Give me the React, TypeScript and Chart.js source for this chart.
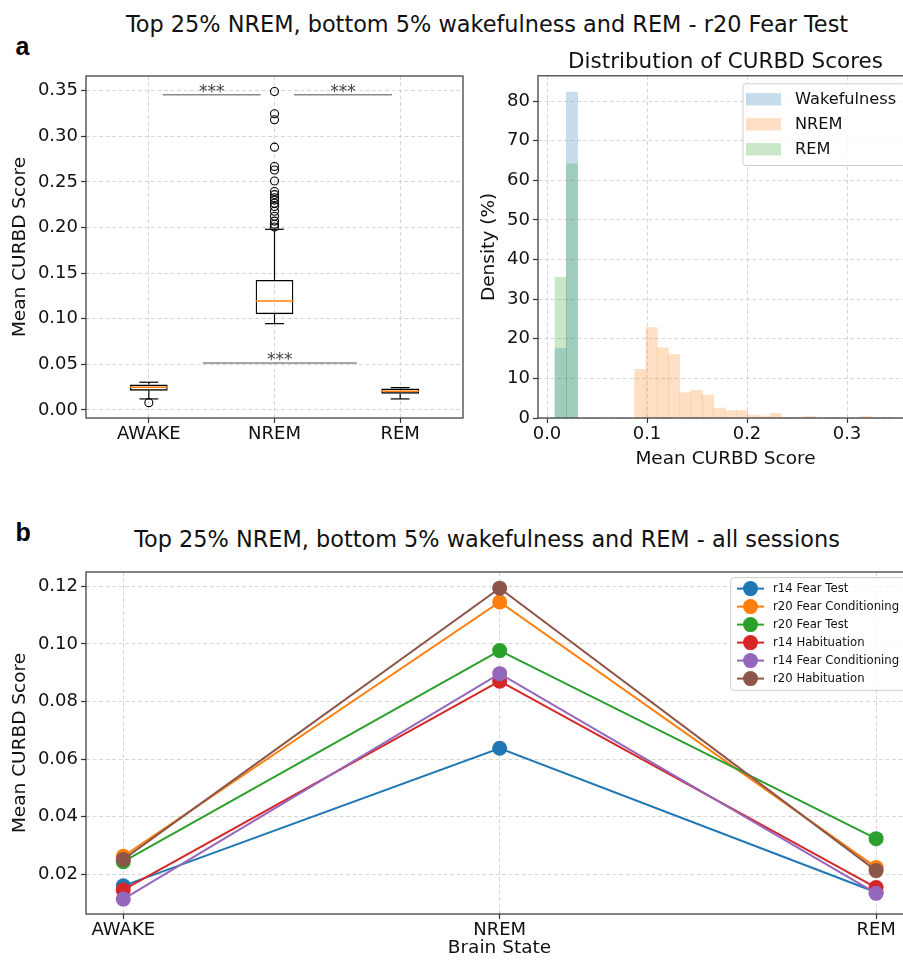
import React, { useEffect, useRef } from 'react';
import { Chart, registerables } from 'chart.js';

Chart.register(...registerables);

const FONT = 'DejaVu Sans';
const TEXT = '#111111';
const GRID = '#d6d6d6';
const SPINE = '#333333';

// ---------------- Panel a (left): box plot ----------------
const STATES = ['AWAKE', 'NREM', 'REM'];
const STATE_POS = [1, 2, 3];
const BOX_Q1 = [0.0212, 0.105, 0.0179];
const BOX_MEDIAN = [0.0248, 0.1195, 0.0205];
const BOX_Q3 = [0.0278, 0.1425, 0.0234];
const WHISKER_LOW = [0.0121, 0.0946, 0.0121];
const WHISKER_HIGH = [0.0304, 0.198, 0.0245];
const AWAKE_OUTLIERS = [0.008];
const NREM_OUTLIERS = [
  0.349, 0.3246, 0.318, 0.288, 0.2668, 0.263, 0.251, 0.2394, 0.236, 0.2325,
  0.23, 0.2265, 0.223, 0.2178, 0.2123, 0.207, 0.2035, 0.2005,
];
const REM_OUTLIERS: number[] = [];
const BOX_Y_TICKS = [0, 0.05, 0.1, 0.15, 0.2, 0.25, 0.3, 0.35];
const SIG_FROM = [1.11, 2.155, 1.43];
const SIG_TO = [1.89, 2.935, 2.655];
const SIG_LEVEL = [0.3454, 0.3454, 0.0515];
const SIG_TEXT = ['***', '***', '***'];

// ---------------- Panel a (right): histogram ----------------
const HIST_LABELS = ['Wakefulness', 'NREM', 'REM'];
const HIST_COLORS = ['rgba(31,119,180,0.25)', 'rgba(255,127,14,0.25)', 'rgba(44,160,44,0.25)'];
const HIST_BIN_WIDTH = 0.0113;
const WAKE_BIN_START = 0.008;
const WAKE_DENSITY = [17.5, 82.3];
const NREM_BIN_START = 0.0876;
const NREM_DENSITY = [
  12.3, 22.8, 17.7, 16.0, 6.4, 7.0, 5.8, 2.5, 1.85, 1.85, 0.75, 0.5,
  1.2, 0.2, 0.25, 0.4, 0, 0.2, 0, 0, 0.4, 0, 0.2,
];
const REM_BIN_START = 0.008;
const REM_DENSITY = [35.5, 64.2];
const HIST_X_TICKS = [0, 0.1, 0.2, 0.3];
const HIST_Y_TICKS = [0, 10, 20, 30, 40, 50, 60, 70, 80];

// ---------------- Panel b: all sessions ----------------
const SESSION_LABELS = [
  'r14 Fear Test',
  'r20 Fear Conditioning',
  'r20 Fear Test',
  'r14 Habituation',
  'r14 Fear Conditioning',
  'r20 Habituation',
];
const SESSION_COLORS = ['#1f77b4', '#ff7f0e', '#2ca02c', '#d62728', '#9467bd', '#8c564b'];
const R14_FEAR_TEST = [0.016, 0.0638, 0.0138];
const R20_FEAR_CONDITIONING = [0.0263, 0.1146, 0.0224];
const R20_FEAR_TEST = [0.0244, 0.0977, 0.0324];
const R14_HABITUATION = [0.0146, 0.0871, 0.0154];
const R14_FEAR_CONDITIONING = [0.0114, 0.0897, 0.0134];
const R20_HABITUATION = [0.0252, 0.1194, 0.0213];
const SESSION_VALUES = [
  R14_FEAR_TEST,
  R20_FEAR_CONDITIONING,
  R20_FEAR_TEST,
  R14_HABITUATION,
  R14_FEAR_CONDITIONING,
  R20_HABITUATION,
];
const LINE_Y_TICKS = [0.02, 0.04, 0.06, 0.08, 0.1, 0.12];

Chart.defaults.font.family = FONT;

function axis(o: {
  min: number;
  max: number;
  ticks: number[];
  fmt: (v: number) => string;
  size: number;
  isY: boolean;
  title?: string;
  titlePad?: any;
}) {
  return {
    type: 'linear',
    min: o.min,
    max: o.max,
    offset: false,
    afterBuildTicks: (s: any) => {
      s.ticks = o.ticks.map((v) => ({ value: v }));
    },
    afterFit: (s: any) => {
      if (o.isY) s.width = o.size;
      else s.height = o.size;
    },
    grid: {
      display: true,
      color: GRID,
      lineWidth: 1,
      drawTicks: true,
      tickLength: 5,
      tickColor: SPINE,
      tickWidth: 1.2,
      tickBorderDash: [],
      offset: false,
    },
    border: { display: false, dash: [4, 2.5] },
    ticks: {
      font: { family: FONT, size: 18 },
      color: TEXT,
      padding: o.isY ? 3 : 1,
      autoSkip: false,
      maxRotation: 0,
      minRotation: 0,
      callback: (v: any) => o.fmt(Number(v)),
    },
    title: o.title
      ? { display: true, text: o.title, font: { family: FONT, size: 18.5 }, color: TEXT, padding: o.titlePad }
      : { display: false },
  };
}

const framePlugin = {
  id: 'frame',
  afterDatasetsDraw(chart: any) {
    const { ctx, chartArea } = chart;
    ctx.save();
    ctx.strokeStyle = SPINE;
    ctx.lineWidth = 1.2;
    ctx.strokeRect(chartArea.left, chartArea.top, chartArea.right - chartArea.left, chartArea.bottom - chartArea.top);
    ctx.restore();
  },
};

function seg(ctx: CanvasRenderingContext2D, x1: number, y1: number, x2: number, y2: number) {
  ctx.beginPath();
  ctx.moveTo(x1, y1);
  ctx.lineTo(x2, y2);
  ctx.stroke();
}

const boxPlugin = {
  id: 'boxWhiskers',
  afterDatasetsDraw(chart: any) {
    const { ctx } = chart;
    const xs = chart.scales.x;
    const ys = chart.scales.y;
    const bars = chart.getDatasetMeta(0).data;
    ctx.save();
    STATE_POS.forEach((pos, i) => {
      const cx = xs.getPixelForValue(pos);
      const half = bars[i].width / 2;
      ctx.strokeStyle = '#000';
      ctx.lineWidth = 1.2;
      seg(ctx, cx, ys.getPixelForValue(BOX_Q3[i]), cx, ys.getPixelForValue(WHISKER_HIGH[i]));
      seg(ctx, cx, ys.getPixelForValue(BOX_Q1[i]), cx, ys.getPixelForValue(WHISKER_LOW[i]));
      seg(ctx, cx - half / 2, ys.getPixelForValue(WHISKER_HIGH[i]), cx + half / 2, ys.getPixelForValue(WHISKER_HIGH[i]));
      seg(ctx, cx - half / 2, ys.getPixelForValue(WHISKER_LOW[i]), cx + half / 2, ys.getPixelForValue(WHISKER_LOW[i]));
      ctx.strokeStyle = '#ff7f0e';
      ctx.lineWidth = 1.5;
      seg(ctx, cx - half, ys.getPixelForValue(BOX_MEDIAN[i]), cx + half, ys.getPixelForValue(BOX_MEDIAN[i]));
    });
    SIG_LEVEL.forEach((lvl, i) => {
      const y = ys.getPixelForValue(lvl);
      const x1 = xs.getPixelForValue(SIG_FROM[i]);
      const x2 = xs.getPixelForValue(SIG_TO[i]);
      ctx.strokeStyle = '#8a8a8a';
      ctx.lineWidth = 1.4;
      seg(ctx, x1, y, x2, y);
      ctx.fillStyle = '#444';
      ctx.font = `17px ${FONT}`;
      ctx.textAlign = 'center';
      ctx.textBaseline = 'alphabetic';
      ctx.fillText(SIG_TEXT[i], (x1 + x2) / 2, y + 2);
    });
    ctx.restore();
  },
};

function legendPlugin(o: {
  dxFromRight: number;
  dyFromTop: number;
  width: number;
  height: number;
  firstRow: number;
  rowStep: number;
  fontSize: number;
  textOffset: number;
  kind: 'patch' | 'marker';
}) {
  return {
    id: 'inlineLegend',
    afterDraw(chart: any) {
      const { ctx, chartArea } = chart;
      const left = chartArea.right - o.dxFromRight;
      const top = chartArea.top + o.dyFromTop;
      ctx.save();
      ctx.beginPath();
      const r = 3;
      const w = o.width;
      const h = o.height;
      ctx.moveTo(left + r, top);
      ctx.lineTo(left + w - r, top);
      ctx.arcTo(left + w, top, left + w, top + r, r);
      ctx.lineTo(left + w, top + h - r);
      ctx.arcTo(left + w, top + h, left + w - r, top + h, r);
      ctx.lineTo(left + r, top + h);
      ctx.arcTo(left, top + h, left, top + h - r, r);
      ctx.lineTo(left, top + r);
      ctx.arcTo(left, top, left + r, top, r);
      ctx.closePath();
      ctx.fillStyle = 'rgba(255,255,255,0.8)';
      ctx.fill();
      ctx.strokeStyle = '#cccccc';
      ctx.lineWidth = 1;
      ctx.stroke();
      chart.data.datasets.forEach((d: any, k: number) => {
        const cy = top + o.firstRow + k * o.rowStep;
        if (o.kind === 'patch') {
          ctx.fillStyle = d.backgroundColor;
          ctx.fillRect(left + 3, cy - 6.2, 35, 12.4);
        } else {
          ctx.strokeStyle = d.borderColor;
          ctx.lineWidth = 2;
          seg(ctx, left + 6.3, cy, left + 33.3, cy);
          ctx.fillStyle = d.borderColor;
          ctx.beginPath();
          ctx.arc(left + 19.8, cy, 7.5, 0, Math.PI * 2);
          ctx.fill();
        }
        ctx.fillStyle = TEXT;
        ctx.font = `${o.fontSize}px ${FONT}`;
        ctx.textAlign = 'left';
        ctx.textBaseline = 'middle';
        ctx.fillText(d.label, left + o.textOffset, cy + 0.5);
      });
      ctx.restore();
    },
  };
}

function boxConfig() {
  const outliers = [AWAKE_OUTLIERS, NREM_OUTLIERS, REM_OUTLIERS].flatMap((arr, i) =>
    arr.map((v) => ({ x: STATE_POS[i], y: v }))
  );
  return {
    type: 'bar',
    data: {
      datasets: [
        {
          type: 'bar',
          label: 'box',
          data: STATE_POS.map((p, i) => ({ x: p, y: [BOX_Q1[i], BOX_Q3[i]] })),
          backgroundColor: 'rgba(0,0,0,0)',
          borderColor: '#000',
          borderWidth: 1.3,
          borderSkipped: false,
          barPercentage: 0.3,
          categoryPercentage: 1,
          grouped: false,
        },
        {
          type: 'scatter',
          label: 'outliers',
          data: outliers,
          pointRadius: 4,
          pointBorderWidth: 1.1,
          pointBackgroundColor: 'rgba(0,0,0,0)',
          pointBorderColor: '#000',
          showLine: false,
        },
      ],
    },
    options: {
      responsive: false,
      animation: false,
      events: [],
      layout: { padding: { top: 16, right: 7, left: 0, bottom: 0 }, autoPadding: false },
      plugins: { legend: { display: false }, tooltip: { enabled: false }, title: { display: false } },
      scales: {
        x: axis({ min: 0.5, max: 3.5, ticks: STATE_POS, fmt: (v) => STATES[Math.round(v) - 1], size: 40, isY: false }),
        y: axis({
          min: -0.0088,
          max: 0.366,
          ticks: BOX_Y_TICKS,
          fmt: (v) => v.toFixed(2),
          size: 86,
          isY: true,
          title: 'Mean CURBD Score',
          titlePad: { top: 9, bottom: 0 },
        }),
      },
    },
    plugins: [boxPlugin, framePlugin],
  };
}

function histConfig() {
  const bins = (start: number, vals: number[]) =>
    vals.map((v, i) => ({ x: start + (i + 0.5) * HIST_BIN_WIDTH, y: v }));
  const series = [
    bins(WAKE_BIN_START, WAKE_DENSITY),
    bins(NREM_BIN_START, NREM_DENSITY),
    bins(REM_BIN_START, REM_DENSITY),
  ];
  return {
    type: 'bar',
    data: {
      datasets: series.map((d, i) => ({
        label: HIST_LABELS[i],
        data: d,
        backgroundColor: HIST_COLORS[i],
        borderWidth: 0,
        barPercentage: 1,
        categoryPercentage: 1,
        grouped: false,
        order: 2 - i,
      })),
    },
    options: {
      responsive: false,
      animation: false,
      events: [],
      layout: { padding: { top: 0, right: 7, left: 0, bottom: 0 }, autoPadding: false },
      plugins: {
        legend: { display: false },
        tooltip: { enabled: false },
        title: {
          display: true,
          text: 'Distribution of CURBD Scores',
          font: { family: FONT, size: 21.5, weight: 'normal' },
          color: TEXT,
          padding: { top: 10, bottom: 0 },
          fullSize: false,
        },
      },
      scales: {
        x: axis({
          min: -0.009,
          max: 0.366,
          ticks: HIST_X_TICKS,
          fmt: (v) => v.toFixed(1),
          size: 52,
          isY: false,
          title: 'Mean CURBD Score',
          titlePad: { top: 0, bottom: 0 },
        }),
        y: axis({
          min: 0,
          max: 86.4,
          ticks: HIST_Y_TICKS,
          fmt: (v) => String(Math.round(v)),
          size: 68,
          isY: true,
          title: 'Density (%)',
          titlePad: { top: 8, bottom: 0 },
        }),
      },
    },
    plugins: [
      framePlugin,
      legendPlugin({
        dxFromRight: 170,
        dyFromTop: 8,
        width: 162,
        height: 81.7,
        firstRow: 15.5,
        rowStep: 25,
        fontSize: 16.2,
        textOffset: 52,
        kind: 'patch',
      }),
    ],
  };
}

function lineConfig() {
  return {
    type: 'line',
    data: {
      datasets: SESSION_VALUES.map((vals, i) => ({
        label: SESSION_LABELS[i],
        data: vals.map((v, k) => ({ x: k, y: v })),
        borderColor: SESSION_COLORS[i],
        backgroundColor: SESSION_COLORS[i],
        pointBackgroundColor: SESSION_COLORS[i],
        pointBorderWidth: 0,
        pointRadius: 7.5,
        borderWidth: 2,
        tension: 0,
        fill: false,
        order: SESSION_VALUES.length - i,
      })),
    },
    options: {
      responsive: false,
      animation: false,
      events: [],
      layout: { padding: { top: 17, right: 7, left: 0, bottom: 0 }, autoPadding: false },
      plugins: { legend: { display: false }, tooltip: { enabled: false }, title: { display: false } },
      scales: {
        x: axis({
          min: -0.099,
          max: 2.098,
          ticks: [0, 1, 2],
          fmt: (v) => STATES[Math.round(v)],
          size: 45,
          isY: false,
          title: 'Brain State',
          titlePad: { top: 0, bottom: 0 },
        }),
        y: axis({
          min: 0.00623,
          max: 0.125,
          ticks: LINE_Y_TICKS,
          fmt: (v) => v.toFixed(2),
          size: 86,
          isY: true,
          title: 'Mean CURBD Score',
          titlePad: { top: 9, bottom: 0 },
        }),
      },
    },
    plugins: [
      framePlugin,
      legendPlugin({
        dxFromRight: 182.3,
        dyFromTop: 5.6,
        width: 182,
        height: 112.7,
        firstRow: 11,
        rowStep: 18,
        fontSize: 11.7,
        textOffset: 42.3,
        kind: 'marker',
      }),
    ],
  };
}

function ChartCanvas(props: { left: number; top: number; width: number; height: number; config: () => any }) {
  const ref = useRef<HTMLCanvasElement | null>(null);
  useEffect(() => {
    if (!ref.current) return;
    const chart = new Chart(ref.current, props.config());
    return () => chart.destroy();
  }, []);
  return (
    <canvas
      ref={ref}
      width={props.width}
      height={props.height}
      style={{ position: 'absolute', left: props.left, top: props.top, width: props.width, height: props.height }}
    />
  );
}

const titleStyle: React.CSSProperties = {
  position: 'absolute',
  left: 87,
  width: 800,
  textAlign: 'center',
  fontFamily: FONT,
  fontSize: 22.4,
  lineHeight: '22.4px',
  color: TEXT,
  whiteSpace: 'nowrap',
};

const letterStyle: React.CSSProperties = {
  position: 'absolute',
  left: 15.5,
  fontFamily: 'Liberation Sans',
  fontWeight: 'bold',
  fontSize: 25,
  lineHeight: '25px',
  color: '#000',
};

export default function App() {
  return (
    <div
      style={{
        position: 'fixed',
        left: 0,
        top: 0,
        width: 903,
        height: 965,
        overflow: 'hidden',
        background: '#ffffff',
      }}
    >
      <div style={{ ...titleStyle, top: 12.75 }}>Top 25% NREM, bottom 5% wakefulness and REM - r20 Fear Test</div>
      <div style={{ ...letterStyle, top: 33.5 }}>a</div>
      <ChartCanvas left={0} top={60} width={470} height={398} config={boxConfig} />
      <ChartCanvas left={470} top={40} width={450} height={430} config={histConfig} />
      <div style={{ ...letterStyle, top: 519.5 }}>b</div>
      <div style={{ ...titleStyle, top: 527.7 }}>Top 25% NREM, bottom 5% wakefulness and REM - all sessions</div>
      <ChartCanvas left={0} top={555} width={920} height={404} config={lineConfig} />
    </div>
  );
}
